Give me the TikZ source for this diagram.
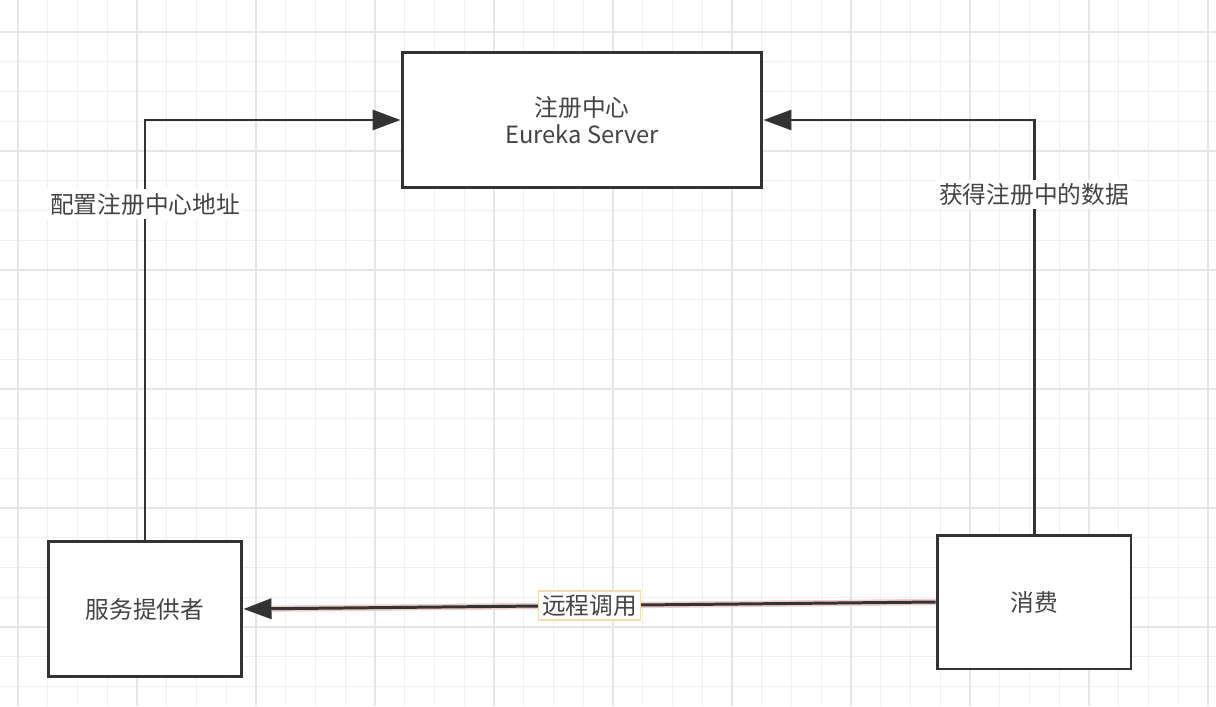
\documentclass[tikz,border=0pt]{standalone}
\usepackage{fontspec}
\setmainfont{Noto Sans CJK SC}
\usepackage{xcolor}
\definecolor{LineDark}{HTML}{333333}
\definecolor{TextGray}{HTML}{444444}
\definecolor{GridMinor}{HTML}{F0F0F0}
\definecolor{GridMajor}{HTML}{E6E6E6}
\definecolor{SelPink}{HTML}{F0CCCC}
\definecolor{SelOrange}{HTML}{F3DDB0}
\usetikzlibrary{positioning,calc,arrows.meta}

\begin{document}
\begin{tikzpicture}[x=0.02cm,y=-0.02cm,
  font=\fontsize{13.5}{17}\selectfont,
  box/.style={draw=LineDark,line width=1.7pt,fill=white,text=TextGray,align=center,inner sep=0pt},
  conn/.style={draw=LineDark,line width=1.7pt,-{Triangle[length=5.6mm,width=4mm]}},
  lbl/.style={fill=white,text=TextGray,inner sep=2pt}]
\useasboundingbox (0,0) rectangle (1216,706);
\fill[white] (0,0) rectangle (1216,706);
% grid
\foreach \k in {0,...,40} {
  \draw[GridMinor,line width=0.8pt] ({18+29.75*\k},0) -- ({18+29.75*\k},706);
}
\foreach \k in {0,...,23} {
  \draw[GridMinor,line width=0.8pt] (0,{32+29.75*\k}) -- (1216,{32+29.75*\k});
}
\foreach \k in {0,4,...,40} {
  \draw[GridMajor,line width=0.9pt] ({18+29.75*\k},0) -- ({18+29.75*\k},706);
}
\foreach \k in {0,4,...,20} {
  \draw[GridMajor,line width=0.9pt] (0,{32+29.75*\k}) -- (1216,{32+29.75*\k});
}
% boxes
\node[box,minimum width=7.2cm,minimum height=2.72cm] (reg) at (582,120) {注册中心\\[-2pt]Eureka Server};
\node[box,minimum width=3.88cm,minimum height=2.7cm] (prov) at (145,609) {服务提供者};
\node[box,minimum width=3.88cm,minimum height=2.68cm] (cons) at (1034,602) {消费};
% connectors
\draw[conn] (prov.north) |- (reg.west) node[lbl,pos=0.4] {配置注册中心地址};
\draw[conn] (cons.north) |- (reg.east) node[lbl,pos=0.41] {获得注册中的数据};
\draw[conn,preaction={draw=SelPink,line width=3.6pt}] (cons.west) -- (prov.east)
  node[lbl,draw=SelOrange,line width=0.8pt,midway] {远程调用};
\end{tikzpicture}
\end{document}
